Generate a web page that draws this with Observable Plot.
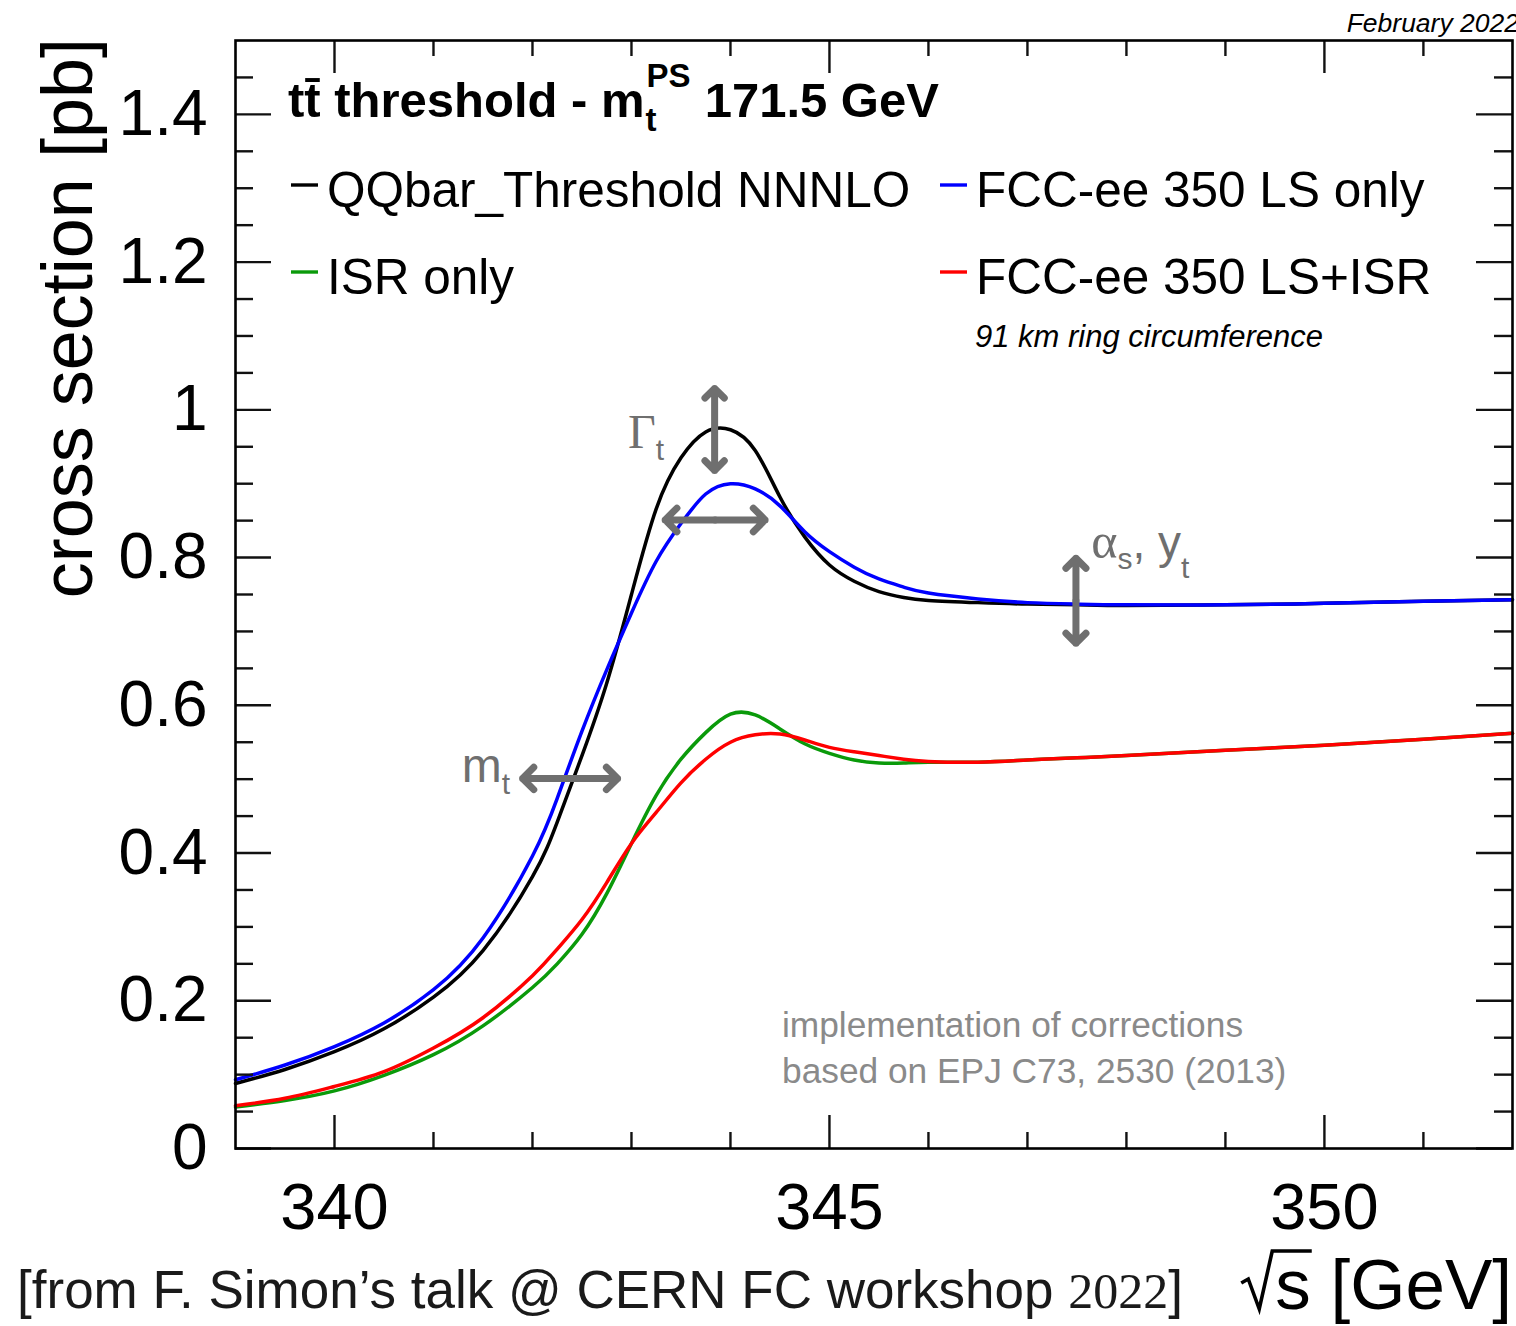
<!DOCTYPE html>
<html>
<head>
<meta charset="utf-8">
<script src="https://cdn.jsdelivr.net/npm/d3@7"></script>
<script src="https://cdn.jsdelivr.net/npm/@observablehq/plot@0.6"></script>
<style>
  body { margin: 0; background: #fff; }
  #chart svg { overflow: visible; display: block; }
</style>
</head>
<body>
<div id="chart"></div>
<script>
// Centre-of-mass energy grid (GeV) shared by all four lineshapes
const energy = [339.0, 339.5, 340.0, 340.5, 341.0, 341.5, 342.0, 342.25, 342.5, 342.75,
                343.0, 343.25, 343.5, 343.75, 344.0, 344.25, 344.5, 344.75, 345.0, 345.25,
                345.5, 345.75, 346.0, 346.5, 347.0, 347.5, 348.0, 349.0, 350.0, 351.0, 351.9];

// Cross sections in pb
const qqbarNNNLO = [0.088, 0.107, 0.131, 0.162, 0.205, 0.268, 0.368, 0.442, 0.532, 0.630,
                    0.750, 0.866, 0.935, 0.970, 0.973, 0.945, 0.882, 0.828, 0.790, 0.768,
                    0.754, 0.746, 0.742, 0.739, 0.737, 0.736, 0.735, 0.736, 0.738, 0.741, 0.743];
const lsOnly     = [0.093, 0.113, 0.138, 0.170, 0.215, 0.285, 0.396, 0.474, 0.565, 0.648,
                    0.725, 0.795, 0.846, 0.886, 0.900, 0.893, 0.870, 0.835, 0.808, 0.787,
                    0.771, 0.760, 0.752, 0.744, 0.739, 0.737, 0.736, 0.736, 0.738, 0.741, 0.743];
const isrOnly    = [0.056, 0.065, 0.078, 0.099, 0.127, 0.166, 0.218, 0.250, 0.290, 0.345,
                    0.413, 0.478, 0.527, 0.563, 0.588, 0.587, 0.568, 0.548, 0.535, 0.526,
                    0.522, 0.522, 0.523, 0.523, 0.526, 0.529, 0.532, 0.539, 0.546, 0.554, 0.562];
const lsPlusIsr  = [0.058, 0.068, 0.084, 0.104, 0.136, 0.177, 0.234, 0.270, 0.310, 0.360,
                    0.413, 0.455, 0.495, 0.527, 0.550, 0.560, 0.561, 0.553, 0.543, 0.537,
                    0.532, 0.527, 0.524, 0.523, 0.526, 0.529, 0.532, 0.539, 0.546, 0.554, 0.562];

const seriesNames  = ["QQbar_Threshold NNNLO", "FCC-ee 350 LS only", "ISR only", "FCC-ee 350 LS+ISR"];
const seriesColors = ["#000000", "#0000ff", "#0a9a0a", "#ff0000"];
const seriesValues = [qqbarNNNLO, lsOnly, isrOnly, lsPlusIsr];

// Axis ticks
const xMajorTicks = [340, 345, 350];
const xMinorTicks = [341, 342, 343, 344, 346, 347, 348, 349, 351];
const yMajorTicks = [0, 0.2, 0.4, 0.6, 0.8, 1.0, 1.2, 1.4];
const yMinorTicks = [0.05, 0.1, 0.15, 0.25, 0.3, 0.35, 0.45, 0.5, 0.55, 0.65, 0.7, 0.75,
                     0.85, 0.9, 0.95, 1.05, 1.1, 1.15, 1.25, 1.3, 1.35, 1.45];

// Sensitivity arrows (double-headed), in data units
const sensitivityArrows = [
  {x1: 343.84, y1: 0.918, x2: 343.84, y2: 1.029},   // width
  {x1: 343.34, y1: 0.851, x2: 344.35, y2: 0.851},   // peak position
  {x1: 341.90, y1: 0.501, x2: 342.86, y2: 0.501},   // mass
  {x1: 347.49, y1: 0.684, x2: 347.49, y2: 0.799}    // coupling / Yukawa
];

const table = seriesNames.flatMap((name, i) =>
  energy.map((e, j) => ({energy: e, xsec: seriesValues[i][j], series: name})));

const halfArrows = sensitivityArrows.flatMap(a => {
  const mx = (a.x1 + a.x2) / 2, my = (a.y1 + a.y2) / 2;
  return [{x1: mx, y1: my, x2: a.x1, y2: a.y1}, {x1: mx, y1: my, x2: a.x2, y2: a.y2}];
});

const W = 1516, H = 1326;
const mL = 235, mR = 4, mT = 40, mB = 178;
const frameW = W - mL - mR, frameH = H - mT - mB;
const sans = "'Liberation Sans', Arial, Helvetica, sans-serif";
const serif = "'Liberation Serif', 'Times New Roman', serif";
const tickColor = "#111";
const grey = "#6f6f6f";

const plot = Plot.plot({
  width: W, height: H,
  marginLeft: mL, marginRight: mR, marginTop: mT, marginBottom: mB,
  x: {domain: [339, 351.9]},
  y: {domain: [0, 1.5]},
  color: {domain: seriesNames, range: seriesColors},
  style: {fontFamily: sans, background: "white", color: "#000"},
  marks: [
    Plot.line(table, {x: "energy", y: "xsec", z: "series", stroke: "series",
                      strokeWidth: 3.5, curve: "natural"}),
    // ticks on all four sides, pointing inwards
    Plot.tickX(xMajorTicks, {x: d => d, insetTop: frameH - 33, stroke: tickColor, strokeWidth: 2.4}),
    Plot.tickX(xMinorTicks, {x: d => d, insetTop: frameH - 16, stroke: tickColor, strokeWidth: 2.4}),
    Plot.tickX(xMajorTicks, {x: d => d, insetBottom: frameH - 33, stroke: tickColor, strokeWidth: 2.4}),
    Plot.tickX(xMinorTicks, {x: d => d, insetBottom: frameH - 16, stroke: tickColor, strokeWidth: 2.4}),
    Plot.tickY(yMajorTicks, {y: d => d, insetRight: frameW - 36, stroke: tickColor, strokeWidth: 2.4}),
    Plot.tickY(yMinorTicks, {y: d => d, insetRight: frameW - 18, stroke: tickColor, strokeWidth: 2.4}),
    Plot.tickY(yMajorTicks, {y: d => d, insetLeft: frameW - 36, stroke: tickColor, strokeWidth: 2.4}),
    Plot.tickY(yMinorTicks, {y: d => d, insetLeft: frameW - 18, stroke: tickColor, strokeWidth: 2.4}),
    Plot.axisX({ticks: xMajorTicks, tickSize: 0, tickPadding: 34, fontSize: 65,
                tickFormat: d => String(d), label: null}),
    Plot.axisY({ticks: yMajorTicks, tickSize: 0, tickPadding: 28, fontSize: 64,
                tickFormat: d => String(+d.toFixed(1)), label: null}),
    Plot.frame({stroke: "#000", strokeWidth: 2.6}),
    Plot.arrow(halfArrows, {x1: "x1", y1: "y1", x2: "x2", y2: "y2", stroke: grey,
                            strokeWidth: 7, headLength: 24, headAngle: 90, bend: 0})
  ]
});

document.getElementById("chart").appendChild(plot);

// ---- text layer: title, legend, labels and notes ----
const svg = d3.select(plot);
const xs = plot.scale("x"), ys = plot.scale("y");
const X = v => xs.apply(v), Y = v => ys.apply(v);

function addText(x, y, str, opts = {}) {
  const t = svg.append("text")
    .attr("x", x).attr("y", y)
    .attr("font-family", opts.family || sans)
    .attr("font-size", opts.size || 48)
    .attr("fill", opts.fill || "#000")
    .attr("text-anchor", opts.anchor || "start")
    .text(str);
  if (opts.weight) t.attr("font-weight", opts.weight);
  if (opts.style) t.attr("font-style", opts.style);
  return t;
}
const width = t => t.node().getComputedTextLength();

// Title: tt̄ threshold - m_t^PS 171.5 GeV
const tx = mL + 53, tyBase = 117;
const tMain = addText(tx, tyBase, "tt\u0304 threshold - m", {size: 49, weight: "bold"});
const afterM = tx + width(tMain) + 1;
addText(afterM, tyBase + 14, "t", {size: 33, weight: "bold"});
const sup = addText(afterM + 1, tyBase - 30, "PS", {size: 33, weight: "bold"});
addText(afterM + 1 + width(sup) + 14, tyBase, "171.5 GeV", {size: 49, weight: "bold"});

// Legend
const legendCols = [mL + 56, mL + 705];
const legendRows = [185, 272];
seriesNames.forEach((name, i) => {
  const lx = legendCols[i % 2], ly = legendRows[Math.floor(i / 2)];
  svg.append("line")
    .attr("x1", lx).attr("x2", lx + 27).attr("y1", ly).attr("y2", ly)
    .attr("stroke", seriesColors[i]).attr("stroke-width", 3.4);
  addText(lx + 36, ly + 22, name, {size: 49.5});
});
addText(legendCols[1] + 35, 347, "91 km ring circumference", {size: 31, style: "italic"});

// Date stamp
addText(W + 3, 32, "February 2022", {size: 26.5, style: "italic", anchor: "end"});

// Axis titles
svg.append("text")
  .attr("transform", `translate(92, ${mT - 2}) rotate(-90)`)
  .attr("text-anchor", "end")
  .attr("font-family", sans).attr("font-size", 72)
  .text("cross section [pb]");

const xBase = 1309;
const xTitle = addText(W - 4, xBase, "s [GeV]", {size: 71, anchor: "end"});
// radical sign drawn over the "s"
{
  const sx = xTitle.node().getStartPositionOfChar(0).x;
  const sw = xTitle.node().getExtentOfChar(0).width;
  const top = xBase - 58;
  const rad = d3.path();
  rad.moveTo(sx - 34, xBase - 26);
  rad.lineTo(sx - 27, xBase - 30);
  rad.lineTo(sx - 16, xBase);
  rad.lineTo(sx - 3, top);
  rad.lineTo(sx + sw + 1, top);
  svg.append("path").attr("d", rad.toString()).attr("fill", "none")
    .attr("stroke", "#000").attr("stroke-width", 3.6).attr("stroke-linejoin", "miter");
}

// Source caption
const cap = svg.append("text")
  .attr("x", 1183).attr("y", 1308)
  .attr("text-anchor", "end")
  .attr("font-family", sans).attr("font-size", 53).attr("fill", "#1a1a1a");
cap.append("tspan").text("[from F. Simon\u2019s talk @ CERN FC workshop ");
cap.append("tspan").attr("font-family", serif).attr("font-size", 50).text("2022");
cap.append("tspan").text("]");

// Note on the radiative corrections
addText(782, 1037, "implementation of corrections", {size: 35.3, fill: "#8a8a8a"});
addText(782, 1083, "based on EPJ C73, 2530 (2013)", {size: 35.3, fill: "#8a8a8a"});

// Parameter labels next to the arrows
function paramLabel(x, y, parts) {
  const t = svg.append("text").attr("x", x).attr("y", y).attr("fill", grey)
    .attr("text-anchor", "start");
  parts.forEach(p => {
    const s = t.append("tspan")
      .attr("font-family", p.serif ? serif : sans)
      .attr("font-size", p.size || 46)
      .text(p.text);
    if (p.dy) s.attr("dy", p.dy);
  });
}
paramLabel(X(342.97), Y(0.948), [{text: "\u0393", serif: true, size: 48}, {text: "t", size: 30, dy: 12}]);
paramLabel(X(341.29), Y(0.496), [{text: "m", size: 48}, {text: "t", size: 30, dy: 12}]);
paramLabel(X(347.65), Y(0.799), [
  {text: "\u03B1", serif: true, size: 50},
  {text: "s", size: 30, dy: 11},
  {text: ",", size: 46, dy: -11},
  {text: " y", size: 46},
  {text: "t", size: 30, dy: 20}
]);
</script>
</body>
</html>
